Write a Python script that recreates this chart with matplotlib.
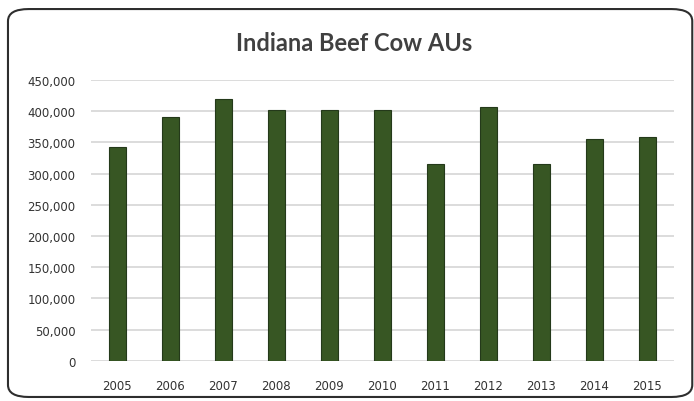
import matplotlib.pyplot as plt
from matplotlib.patches import FancyBboxPatch

# data
years = ['2005', '2006', '2007', '2008', '2009', '2010', '2011', '2012', '2013', '2014', '2015']
beef_cow_aus = [343000, 391000, 419000, 402000, 402000, 402000, 315000, 407000, 315000, 355000, 359000]
y_ticks = [0, 50000, 100000, 150000, 200000, 250000, 300000, 350000, 400000, 450000]

plt.rcParams['font.family'] = ['DejaVu Sans']

fig = plt.figure(figsize=(6.94, 4.02), dpi=100)

# rounded chart border
border = FancyBboxPatch((0.0115, 0.01), 0.986, 0.965,
                        boxstyle='round,pad=0,rounding_size=0.03',
                        transform=fig.transFigure, fill=False,
                        edgecolor='#2e2e2e', linewidth=1.5)
fig.patches.append(border)

ax = fig.add_axes([0.131, 0.100, 0.840, 0.6985])
x = range(len(years))
ax.bar(x, beef_cow_aus, width=0.32, color='#375623', edgecolor='#24391a', linewidth=0.8, zorder=3)

ax.set_xlim(-0.5, len(years) - 0.5)
ax.set_ylim(0, 450000)
ax.set_yticks(y_ticks)
ax.set_yticklabels(['{:,}'.format(v) for v in y_ticks])
ax.set_xticks(list(x))
ax.set_xticklabels(years)
ax.yaxis.grid(True, color='#d9d9d9', linewidth=1.3, zorder=0)
ax.tick_params(axis='both', length=0, labelsize=8.5, colors='#333333')
ax.tick_params(axis='x', pad=13)
ax.tick_params(axis='y', pad=11)
for s in ax.spines.values():
    s.set_visible(False)

fig.text(0.51, 0.893, 'Indiana Beef Cow AUs', ha='center', va='center',
         fontsize=17, color='#404040', fontweight='bold', family='Lato')

fig.savefig('out.png', dpi=100)
